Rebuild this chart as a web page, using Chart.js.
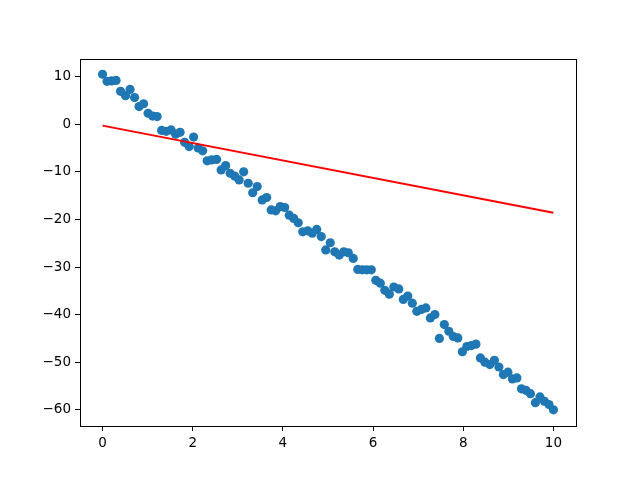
<!DOCTYPE html>
<html>
<head>
<meta charset="utf-8">
<script src="https://cdn.jsdelivr.net/npm/chart.js@4/dist/chart.umd.min.js"></script>
<style>
  html, body { margin: 0; padding: 0; background: #fff; }
  #wrap { width: 640px; height: 480px; }
</style>
</head>
<body>
<div id="wrap"><canvas id="chart" width="640" height="480"></canvas></div>
<script>
// x positions of the samples (evenly spaced from 0 to 10)
const xValues = [
  0.00, 0.10, 0.20, 0.30, 0.40, 0.51, 0.61, 0.71, 0.81, 0.91,
  1.01, 1.11, 1.21, 1.31, 1.41, 1.52, 1.62, 1.72, 1.82, 1.92,
  2.02, 2.12, 2.22, 2.32, 2.42, 2.53, 2.63, 2.73, 2.83, 2.93,
  3.03, 3.13, 3.23, 3.33, 3.43, 3.54, 3.64, 3.74, 3.84, 3.94,
  4.04, 4.14, 4.24, 4.34, 4.44, 4.55, 4.65, 4.75, 4.85, 4.95,
  5.05, 5.15, 5.25, 5.35, 5.45, 5.56, 5.66, 5.76, 5.86, 5.96,
  6.06, 6.16, 6.26, 6.36, 6.46, 6.57, 6.67, 6.77, 6.87, 6.97,
  7.07, 7.17, 7.27, 7.37, 7.47, 7.58, 7.68, 7.78, 7.88, 7.98,
  8.08, 8.18, 8.28, 8.38, 8.48, 8.59, 8.69, 8.79, 8.89, 8.99,
  9.09, 9.19, 9.29, 9.39, 9.49, 9.60, 9.70, 9.80, 9.90, 10.00
];

// measured points (blue scatter)
const yValues = [
  10.5, 9.0, 9.1, 9.2, 6.9, 6.0, 7.3, 5.6, 3.7, 4.3,
  2.3, 1.7, 1.6, -1.3, -1.5, -1.2, -2.1, -1.7, -3.8, -4.7,
  -2.7, -5.0, -5.6, -7.7, -7.5, -7.4, -9.6, -8.7, -10.3, -10.9,
  -11.7, -10.0, -12.4, -14.4, -13.1, -15.9, -15.4, -18.0, -18.2, -17.3,
  -17.5, -19.1, -19.8, -20.7, -22.6, -22.4, -22.9, -22.1, -23.6, -26.4,
  -24.9, -26.8, -27.5, -26.8, -27.0, -28.2, -30.5, -30.6, -30.6, -30.6,
  -32.8, -33.4, -34.9, -35.7, -34.2, -34.6, -36.8, -36.1, -37.6, -39.3,
  -38.9, -38.6, -40.7, -40.0, -45.0, -42.1, -43.5, -44.6, -44.9, -47.8,
  -46.7, -46.5, -46.2, -49.1, -50.0, -50.5, -49.6, -51.0, -52.6, -52.1,
  -53.5, -53.3, -55.6, -55.9, -56.6, -58.5, -57.3, -58.2, -58.9, -60.0
];

// red fitted line, start and end
const lineX = [0, 10];
const lineY = [-0.3, -18.6];

const xTicks = [0, 2, 4, 6, 8, 10];
const yTicks = [-60, -50, -40, -30, -20, -10, 0, 10];

const scatterPoints = xValues.map((x, i) => ({ x: x, y: yValues[i] }));
const linePoints = lineX.map((x, i) => ({ x: x, y: lineY[i] }));

// matplotlib style: box around the axes
const frameBox = {
  id: 'frameBox',
  afterDraw(chart) {
    const a = chart.chartArea;
    const ctx = chart.ctx;
    ctx.save();
    ctx.strokeStyle = '#000';
    ctx.lineWidth = 1;
    ctx.strokeRect(Math.round(a.left) + 0.5, Math.round(a.top) + 0.5,
                   Math.round(a.right - a.left), Math.round(a.bottom - a.top));
    ctx.restore();
  }
};

function minusSign(v) {
  return String(v).replace('-', '\u2212');
}

const tickFont = { family: 'DejaVu Sans', size: 13.5 };

new Chart(document.getElementById('chart').getContext('2d'), {
  type: 'scatter',
  data: {
    datasets: [
      {
        data: linePoints,
        showLine: true,
        borderColor: '#ff0000',
        borderWidth: 2,
        pointRadius: 0,
        fill: false
      },
      {
        data: scatterPoints,
        backgroundColor: '#1f77b4',
        borderWidth: 0,
        pointRadius: 4.6
      }
    ]
  },
  options: {
    responsive: false,
    animation: false,
    layout: { padding: { left: 0, top: 59, right: 64, bottom: 0 } },
    plugins: {
      legend: { display: false },
      tooltip: { enabled: false }
    },
    scales: {
      x: {
        type: 'linear',
        min: -0.5,
        max: 10.5,
        afterBuildTicks(scale) { scale.ticks = xTicks.map(v => ({ value: v })); },
        afterFit(scale) { scale.height = 54; },
        grid: { drawOnChartArea: false, drawTicks: true, tickLength: 5, color: '#000' },
        border: { display: true, color: '#000' },
        ticks: { color: '#000', font: tickFont, padding: 4, maxRotation: 0,
                 callback: v => minusSign(v) }
      },
      y: {
        type: 'linear',
        min: -63.4,
        max: 13.7,
        afterBuildTicks(scale) { scale.ticks = yTicks.map(v => ({ value: v })); },
        afterFit(scale) { scale.width = 80; },
        grid: { drawOnChartArea: false, drawTicks: true, tickLength: 5, color: '#000' },
        border: { display: true, color: '#000' },
        ticks: { color: '#000', font: tickFont, padding: 4,
                 callback: v => minusSign(v) }
      }
    }
  },
  plugins: [frameBox]
});
</script>
</body>
</html>
